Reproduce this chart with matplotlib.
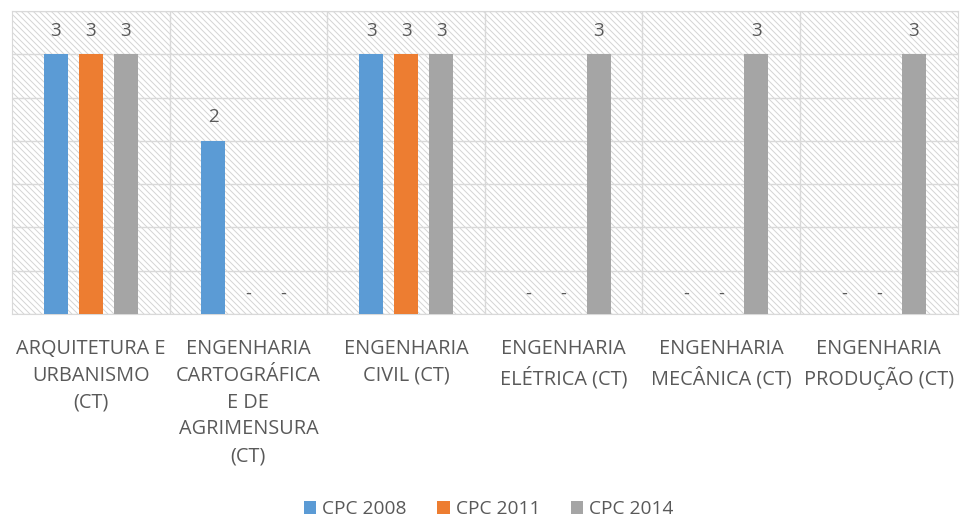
import matplotlib.pyplot as plt
from matplotlib.collections import LineCollection
import numpy as np

plt.rcParams['font.family'] = ['Open Sans', 'DejaVu Sans']

categories = ["ARQUITETURA E\nURBANISMO\n(CT)",
              "ENGENHARIA\nCARTOGRÁFICA\nE DE\nAGRIMENSURA\n(CT)",
              "ENGENHARIA\nCIVIL (CT)",
              "ENGENHARIA\nELÉTRICA (CT)",
              "ENGENHARIA\nMECÂNICA (CT)",
              "ENGENHARIA\nPRODUÇÃO (CT)"]
series = ["CPC 2008", "CPC 2011", "CPC 2014"]
cpc_2008 = [3, 2, 3, None, None, None]
cpc_2011 = [3, None, 3, None, None, None]
cpc_2014 = [3, None, 3, 3, 3, 3]
colors = ['#5b9bd5', '#ed7d31', '#a5a5a5']
txt = '#595959'

fig = plt.figure(figsize=(9.62, 5.2), dpi=100)
rect = [0.0125, 0.396, 0.983, 0.583]

# hatched background drawn on its own axes in pixel units
bgax = fig.add_axes(rect, zorder=0)
W, H = rect[2] * 962, rect[3] * 520
bgax.set_xlim(0, W)
bgax.set_ylim(0, H)
bgax.axis('off')
segs = [[(c, H), (c + H, 0)] for c in np.arange(-H, W + 6, 6)]
bgax.add_collection(LineCollection(segs, colors='#d4d4d4', linewidths=0.7))

ax = fig.add_axes(rect, zorder=1)
ax.patch.set_visible(False)

x = np.arange(len(categories))
width = 0.152
offs = [-0.222, 0, 0.222]

for vals, off, col, name in zip([cpc_2008, cpc_2011, cpc_2014], offs, colors, series):
    h = [v if v is not None else 0 for v in vals]
    ax.bar(x + off, h, width, color=col, label=name, zorder=3)
    for xi, v in zip(x, vals):
        if v is None:
            ax.text(xi + off, 0.13, "-", ha='center', va='bottom', color=txt, fontsize=13)
        else:
            ax.text(xi + off, v + 0.17, str(v), ha='center', va='bottom', color=txt, fontsize=13.5)

ax.set_xlim(-0.5, len(categories) - 0.5)
ax.set_ylim(0, 3.5)
ax.set_yticks(np.arange(0, 3.6, 0.5))
ax.set_yticklabels([])
ax.tick_params(axis='y', length=0)
ax.set_xticks(x)
ax.set_xticklabels(categories, color=txt, fontsize=14.3, linespacing=1.45)
ax.tick_params(axis='x', length=0, pad=18)
for b in np.arange(0.5, len(categories) - 0.5, 1):
    ax.axvline(b, color='#d9d9d9', lw=1, zorder=1)
ax.grid(axis='y', color='#d9d9d9', lw=1, zorder=1)
ax.set_axisbelow(True)
for s in ax.spines.values():
    s.set_color('#d9d9d9')

fig.legend(loc='lower center', bbox_to_anchor=(0.508, -0.03), ncol=3, frameon=False,
           fontsize=13.8, labelcolor=txt, handlelength=0.65, handleheight=0.65,
           handletextpad=0.3, columnspacing=1.6)

fig.savefig('out.png', dpi=100)
